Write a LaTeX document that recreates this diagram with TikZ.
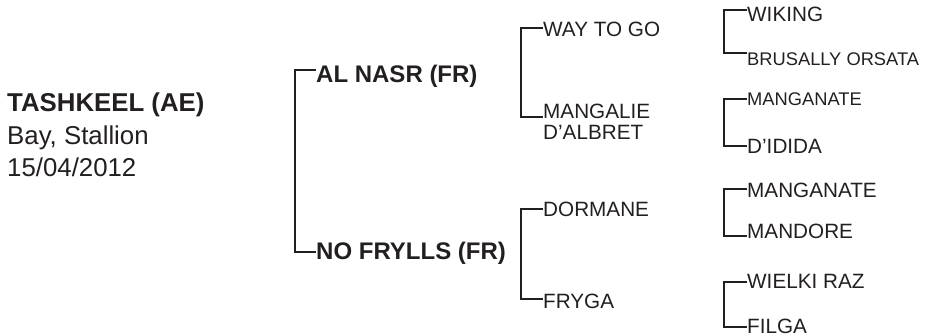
\documentclass[tikz,border=0pt]{standalone}
\usepackage{fontspec}
\setmainfont{Liberation Sans}
\definecolor{ink}{HTML}{231F20}
\tikzset{
  horse/.style={anchor=base west,inner sep=0pt,text=ink},
  gen1/.style={horse,font=\fontsize{25.8}{30}\selectfont},
  gen2/.style={horse,font=\fontsize{24}{28}\selectfont\bfseries},
  gen3/.style={horse,font=\fontsize{20.7}{21.7}\selectfont},
  gen4/.style={horse,font=\fontsize{20.7}{24}\selectfont},
  gen4small/.style={horse,font=\fontsize{18.3}{22}\selectfont},
  bracket/.style={draw=ink,line width=2.2pt}
}
\begin{document}
\begin{tikzpicture}[x=1pt,y=-1pt]
\useasboundingbox (0,0) rectangle (929,336);

\node[gen1,font=\fontsize{25.8}{30}\selectfont\bfseries] (tashkeel) at (7,112) {TASHKEEL (AE)};
\node[gen1] (colour) at (7,144.5) {Bay, Stallion};
\node[gen1] (foaled) at (7,177) {15/04/2012};

\node[gen2] (alnasr) at (316,83) {AL NASR (FR)};
\node[gen2] (nofrylls) at (316,260) {NO FRYLLS (FR)};
\draw[bracket] ([yshift=13pt]alnasr.base west) -- ++(-21,0) |- ([yshift=8.3pt]nofrylls.base west);

\node[gen3] (waytogo) at (543,37) {WAY TO GO};
\node[gen3,anchor=north west,align=left] (mangalie) at (543,103.5) {MANGALIE\\D’ALBRET};
\draw[bracket] ([yshift=9.3pt]waytogo.base west) -- ++(-22,0) |- ([yshift=-13.5pt]mangalie.north west);

\node[gen3] (dormane) at (543,216.7) {DORMANE};
\node[gen3] (fryga) at (543,308.3) {FRYGA};
\draw[bracket] ([yshift=7.7pt]dormane.base west) -- ++(-22,0) |- ([yshift=9pt]fryga.base west);

\node[gen4] (wiking) at (747,21.7) {WIKING};
\node[gen4small] (brusally) at (747,65.7) {BRUSALLY ORSATA};
\draw[bracket] ([yshift=11.7pt]wiking.base west) -- ++(-23,0) |- ([yshift=12.4pt]brusally.base west);

\node[gen4small] (manganatea) at (747,105.7) {MANGANATE};
\node[gen4] (didida) at (747,153.3) {D’IDIDA};
\draw[bracket] ([yshift=6.7pt]manganatea.base west) -- ++(-23,0) |- ([yshift=7.3pt]didida.base west);

\node[gen4] (manganateb) at (747,197.7) {MANGANATE};
\node[gen4] (mandore) at (747,238.3) {MANDORE};
\draw[bracket] ([yshift=8.7pt]manganateb.base west) -- ++(-23,0) |- ([yshift=2.3pt]mandore.base west);

\node[gen4] (wielkiraz) at (747,289) {WIELKI RAZ};
\node[gen4] (filga) at (747,333.3) {FILGA};
\draw[bracket] ([yshift=6.7pt]wielkiraz.base west) -- ++(-23,0) |- ([yshift=6.6pt]filga.base west);
\end{tikzpicture}
\end{document}
